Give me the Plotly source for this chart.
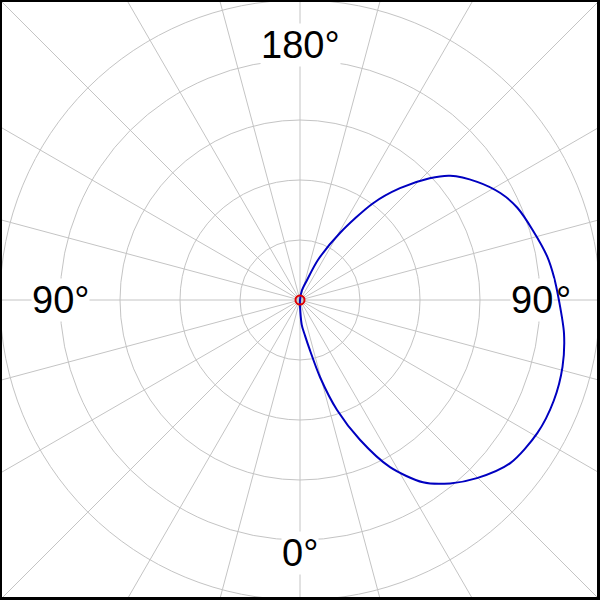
import math
import plotly.graph_objects as go

# Pattern data: angle (degrees, 0 at bottom, increasing toward right) and normalized radius
theta_deg = [0, 4, 8, 11, 14.6, 18.6, 23.2, 28.3, 34, 39.3, 44.8, 52.2, 60.7, 68.4, 75.7,
             82.8, 90, 95.2, 99.9, 106.7, 113, 118.1, 123.7, 129.6, 133.2, 138.2, 143,
             149.2, 155.8, 160.7, 168.7, 180]
radius = [0, 0.083, 0.12, 0.167, 0.267, 0.387, 0.507, 0.633, 0.733, 0.79, 0.837, 0.887,
          0.907, 0.91, 0.903, 0.887, 0.863, 0.85, 0.837, 0.81, 0.787, 0.757, 0.71, 0.65,
          0.593, 0.5, 0.403, 0.26, 0.147, 0.07, 0.033, 0]

label_texts = ["180°", "90°", "0°"]
right_label = ["90", "°"]

grid_color = "#c4c4c4"
font = dict(family="Liberation Sans, Arial", size=38, color="black")

fig = go.Figure()
fig.add_trace(go.Scatterpolar(
    r=radius, theta=theta_deg, mode="lines",
    line=dict(color="#0000c0", width=2, shape="spline", smoothing=0.8),
    showlegend=False, hoverinfo="skip"))
fig.add_trace(go.Scatterpolar(
    r=[0], theta=[0], mode="markers",
    marker=dict(symbol="circle-open", size=9, color="#e00000", line=dict(width=2)),
    showlegend=False, hoverinfo="skip"))

fig.update_layout(
    width=600, height=600,
    margin=dict(l=0, r=0, t=0, b=0),
    paper_bgcolor="white",
    polar=dict(
        domain=dict(x=[0, 1], y=[0, 1]),
        bgcolor="rgba(0,0,0,0)",
        radialaxis=dict(range=[0, 1], dtick=0.2, showticklabels=False, ticks="",
                        showline=False, gridcolor=grid_color, gridwidth=1),
        angularaxis=dict(rotation=270, direction="counterclockwise",
                         tickvals=list(range(0, 360, 15)), showticklabels=False, ticks="",
                         showline=True, linecolor=grid_color, linewidth=1,
                         gridcolor=grid_color, gridwidth=1),
    ),
)

# extend spokes into the corners beyond the outer circle
shapes = []
for a in range(0, 360, 15):
    c, s = math.cos(math.radians(a)), math.sin(math.radians(a))
    rmax = 300 / max(abs(c), abs(s))
    if rmax > 301:
        shapes.append(dict(type="line", xref="paper", yref="paper",
                           x0=0.5 + 300 * c / 600, y0=0.5 + 300 * s / 600,
                           x1=0.5 + rmax * c / 600, y1=0.5 + rmax * s / 600,
                           line=dict(color=grid_color, width=1)))
# frame
shapes.append(dict(type="rect", xref="paper", yref="paper", x0=0, y0=0, x1=1, y1=1,
                   line=dict(color="black", width=4)))
shapes.append(dict(type="line", xref="paper", yref="paper", x0=1, y0=0, x1=1, y1=1,
                   line=dict(color="black", width=6)))
shapes.append(dict(type="line", xref="paper", yref="paper", x0=0, y0=0, x1=1, y1=0,
                   line=dict(color="black", width=6)))
fig.update_layout(shapes=shapes)

# angle labels inside the plot (pixel positions of label centres)
label_pos = [(300, 45), (60, 300), (300, 553)]
for (px, py), txt in zip(label_pos, label_texts):
    fig.add_annotation(x=px / 600, y=1 - py / 600, xref="paper", yref="paper",
                       text=txt, showarrow=False, font=font,
                       bgcolor="white", borderpad=0, xanchor="center", yanchor="middle")
# right-hand label: digits on white, degree sign transparent so the curve stays visible
fig.add_annotation(x=554 / 600, y=0.5, xref="paper", yref="paper", text=right_label[0],
                   showarrow=False, font=font, bgcolor="white", borderpad=0,
                   xanchor="right", yanchor="middle")
fig.add_annotation(x=554 / 600, y=0.5, xref="paper", yref="paper", text=right_label[1],
                   showarrow=False, font=font, xanchor="left", yanchor="middle")

fig.write_html("out.html", config={"displayModeBar": False},
               post_script="document.body.style.margin='0';document.body.style.overflow='hidden';")
